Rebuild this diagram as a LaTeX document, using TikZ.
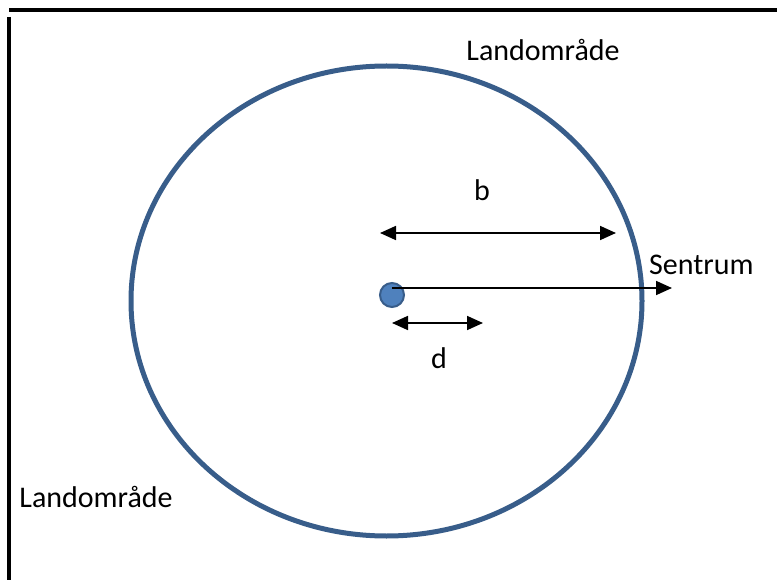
\documentclass[tikz,border=0pt]{standalone}
\usepackage{fontspec}
\setmainfont{Carlito}
\usepackage{xcolor}
\usepackage{tikz}
\usetikzlibrary{arrows.meta, positioning, shapes.geometric}

\definecolor{ringblue}{RGB}{56,93,138}
\definecolor{dotblue}{RGB}{79,129,189}

\tikzset{
  lbl/.style={font=\fontsize{30}{36}\selectfont, inner sep=0pt},
  arr/.style={line width=1.8pt, -{Triangle[length=16pt,width=14pt]}},
  dblarr/.style={line width=1.8pt, {Triangle[length=16pt,width=14pt]}-{Triangle[length=16pt,width=14pt]}}
}

\begin{document}
\begin{tikzpicture}[x=1pt, y=-1pt]
\useasboundingbox (0,0) rectangle (777,580);
% frame
\draw[line width=3.5pt] (9,10) -- (777,10);
\draw[line width=3.5pt] (9,17) -- (9,580);

% ring and centre
\node[ellipse, draw=ringblue, line width=5pt, minimum width=511pt, minimum height=470pt, inner sep=0pt] (ring) at (386.5,301) {};
\node[circle, fill=dotblue, draw=ringblue, line width=2pt, minimum size=24pt, inner sep=0pt] (dot) at (392,295) {};

\coordinate (bstart) at (380,233);
\coordinate (bend) at (616,233);
\coordinate (sstart) at (392,288);
\coordinate (send) at (672,288);
\coordinate (dstart) at (392,323);
\coordinate (dend) at (483,323);

\draw[dblarr] (bstart) -- (bend);
\draw[arr] (sstart) -- (send);
\draw[dblarr] (dstart) -- (dend);

% labels
\node[lbl] (blabel) at (482,190) {b};
\node[lbl] (dlabel) at (439,358) {d};
\node[lbl, anchor=west] (sentrum) at (649,265) {Sentrum};
\node[lbl] (landtop) at (543,50) {Landområde};
\node[lbl] (landbottom) at (96,497) {Landområde};
\end{tikzpicture}
\end{document}
